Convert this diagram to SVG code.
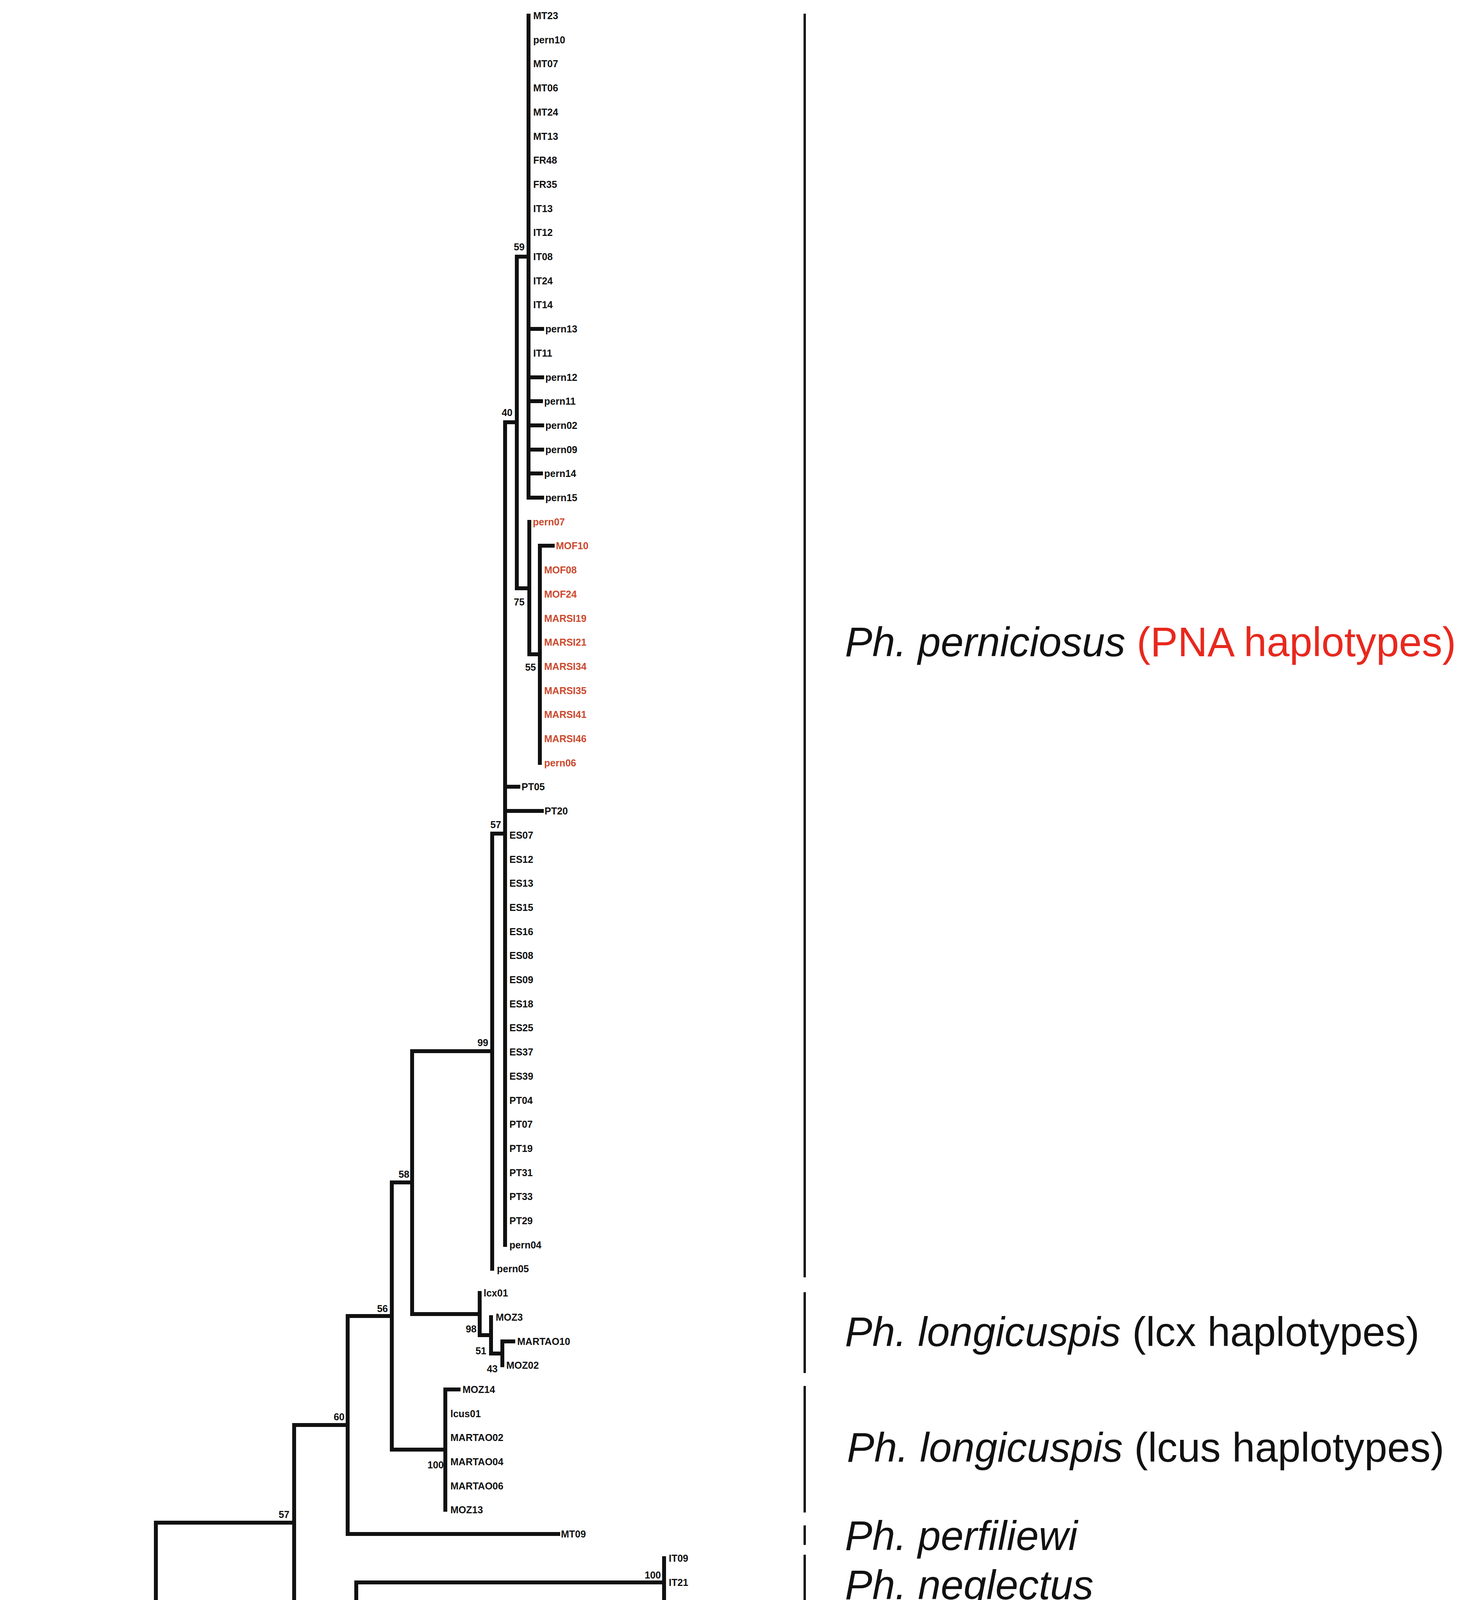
<svg xmlns="http://www.w3.org/2000/svg" width="3758" height="5182" viewBox="0 0 3758 5182">
<style>
.br{fill:none;stroke:#111;stroke-width:10;stroke-linecap:square}
.tip{font-family:"Liberation Sans",Arial,sans-serif;font-size:25px;font-weight:bold;fill:#111}
.red{fill:#cc4a2e}
.bs{font-family:"Liberation Sans",Arial,sans-serif;font-size:25px;font-weight:bold;fill:#111;text-anchor:end}
.cl{font-family:"Liberation Sans",Arial,sans-serif;font-size:105px;fill:#111}
.it{font-style:italic}
.brk{stroke:#111;stroke-width:6}
</style>
<rect width="3758" height="5182" fill="#ffffff"/>
<g id="connectors">
<path class="br" d="M1353 40 V1274 M1353 842 H1388 M1353 966 H1388 M1353 1027 H1385 M1353 1089 H1388 M1353 1151 H1388 M1353 1212 H1385 M1353 1274 H1388"/>
<path class="br" d="M1323 657 H1353 M1323 657 V1506 M1323 1506 H1355 M1355 1336 V1675 M1355 1675 H1382 M1382 1397 V1953 M1382 1397 H1415"/>
<path class="br" d="M1293 1081 H1323 M1293 1081 V3187 M1293 2014 H1327 M1293 2076 H1387"/>
<path class="br" d="M1260 2134 H1293 M1260 2134 V3248 M1055 2691 H1260 M1055 2691 V3364"/>
<path class="br" d="M1055 3364 H1228 M1228 3310 V3418 M1228 3418 H1257 M1257 3372 V3465 M1257 3465 H1286 M1286 3434 V3495 M1286 3434 H1314"/>
<path class="br" d="M1003 3027 H1055 M1003 3027 V3711 M1003 3711 H1140 M1140 3557 V3865 M1140 3557 H1174"/>
<path class="br" d="M890 3369 H1003 M890 3369 V3927 M890 3927 H1429"/>
<path class="br" d="M753 3648 H890 M753 3648 V4148 M753 4148 H912 M912 4051 V4245 M912 4051 H1700 M1700 3989 V4112"/>
<path class="br" d="M912 4245 H1468 M1468 4174 V4316 M1468 4174 H1557 M1468 4316 H1494 M1494 4236 V4397 M1494 4236 H1531 M1494 4397 H1524 M1524 4328 V4467 M1524 4328 H1586 M1586 4297 V4359 M1586 4297 H1614 M1586 4359 H1614 M1524 4467 H1540 M1540 4421 V4513 M1540 4421 H1597 M1540 4513 H1554 M1554 4482 V4544 M1554 4544 H1677"/>
<path class="br" d="M399 3898 H753 M399 3898 V4668 M399 4668 H1263 M1263 4606 V4729"/>
<path class="br" d="M26 4283 H399 M26 4283 V4837 M26 4837 H85 M85 4791 V4883 M85 4791 H1697 M85 4883 H630 M630 4853 V4914"/>
</g>
<g id="tips">
<g id="t-MT23"><text class="tip" x="1365" y="49">MT23</text></g>
<g id="t-pern10"><text class="tip" x="1365" y="111">pern10</text></g>
<g id="t-MT07"><text class="tip" x="1365" y="172">MT07</text></g>
<g id="t-MT06"><text class="tip" x="1365" y="234">MT06</text></g>
<g id="t-MT24"><text class="tip" x="1365" y="296">MT24</text></g>
<g id="t-MT13"><text class="tip" x="1365" y="358">MT13</text></g>
<g id="t-FR48"><text class="tip" x="1365" y="419">FR48</text></g>
<g id="t-FR35"><text class="tip" x="1365" y="481">FR35</text></g>
<g id="t-IT13"><text class="tip" x="1365" y="543">IT13</text></g>
<g id="t-IT12"><text class="tip" x="1365" y="604">IT12</text></g>
<g id="t-IT08"><text class="tip" x="1365" y="666">IT08</text></g>
<g id="t-IT24"><text class="tip" x="1365" y="728">IT24</text></g>
<g id="t-IT14"><text class="tip" x="1365" y="789">IT14</text></g>
<g id="t-pern13"><text class="tip" x="1396" y="851">pern13</text></g>
<g id="t-IT11"><text class="tip" x="1365" y="913">IT11</text></g>
<g id="t-pern12"><text class="tip" x="1396" y="975">pern12</text></g>
<g id="t-pern11"><text class="tip" x="1393" y="1036">pern11</text></g>
<g id="t-pern02"><text class="tip" x="1396" y="1098">pern02</text></g>
<g id="t-pern09"><text class="tip" x="1396" y="1160">pern09</text></g>
<g id="t-pern14"><text class="tip" x="1393" y="1221">pern14</text></g>
<g id="t-pern15"><text class="tip" x="1396" y="1283">pern15</text></g>
<g id="t-pern07"><text class="tip red" x="1364" y="1345">pern07</text></g>
<g id="t-MOF10"><text class="tip red" x="1423" y="1406">MOF10</text></g>
<g id="t-MOF08"><text class="tip red" x="1393" y="1468">MOF08</text></g>
<g id="t-MOF24"><text class="tip red" x="1393" y="1530">MOF24</text></g>
<g id="t-MARSI19"><text class="tip red" x="1393" y="1592">MARSI19</text></g>
<g id="t-MARSI21"><text class="tip red" x="1393" y="1653">MARSI21</text></g>
<g id="t-MARSI34"><text class="tip red" x="1393" y="1715">MARSI34</text></g>
<g id="t-MARSI35"><text class="tip red" x="1393" y="1777">MARSI35</text></g>
<g id="t-MARSI41"><text class="tip red" x="1393" y="1838">MARSI41</text></g>
<g id="t-MARSI46"><text class="tip red" x="1393" y="1900">MARSI46</text></g>
<g id="t-pern06"><text class="tip red" x="1393" y="1962">pern06</text></g>
<g id="t-PT05"><text class="tip" x="1335" y="2023">PT05</text></g>
<g id="t-PT20"><text class="tip" x="1394" y="2085">PT20</text></g>
<g id="t-ES07"><text class="tip" x="1304" y="2147">ES07</text></g>
<g id="t-ES12"><text class="tip" x="1304" y="2209">ES12</text></g>
<g id="t-ES13"><text class="tip" x="1304" y="2270">ES13</text></g>
<g id="t-ES15"><text class="tip" x="1304" y="2332">ES15</text></g>
<g id="t-ES16"><text class="tip" x="1304" y="2394">ES16</text></g>
<g id="t-ES08"><text class="tip" x="1304" y="2455">ES08</text></g>
<g id="t-ES09"><text class="tip" x="1304" y="2517">ES09</text></g>
<g id="t-ES18"><text class="tip" x="1304" y="2579">ES18</text></g>
<g id="t-ES25"><text class="tip" x="1304" y="2640">ES25</text></g>
<g id="t-ES37"><text class="tip" x="1304" y="2702">ES37</text></g>
<g id="t-ES39"><text class="tip" x="1304" y="2764">ES39</text></g>
<g id="t-PT04"><text class="tip" x="1304" y="2826">PT04</text></g>
<g id="t-PT07"><text class="tip" x="1304" y="2887">PT07</text></g>
<g id="t-PT19"><text class="tip" x="1304" y="2949">PT19</text></g>
<g id="t-PT31"><text class="tip" x="1304" y="3011">PT31</text></g>
<g id="t-PT33"><text class="tip" x="1304" y="3072">PT33</text></g>
<g id="t-PT29"><text class="tip" x="1304" y="3134">PT29</text></g>
<g id="t-pern04"><text class="tip" x="1304" y="3196">pern04</text></g>
<g id="t-pern05"><text class="tip" x="1272" y="3257">pern05</text></g>
<g id="t-lcx01"><text class="tip" x="1238" y="3319">lcx01</text></g>
<g id="t-MOZ3"><text class="tip" x="1269" y="3381">MOZ3</text></g>
<g id="t-MARTAO10"><text class="tip" x="1324" y="3443">MARTAO10</text></g>
<g id="t-MOZ02"><text class="tip" x="1296" y="3504">MOZ02</text></g>
<g id="t-MOZ14"><text class="tip" x="1184" y="3566">MOZ14</text></g>
<g id="t-lcus01"><text class="tip" x="1153" y="3628">lcus01</text></g>
<g id="t-MARTAO02"><text class="tip" x="1153" y="3689">MARTAO02</text></g>
<g id="t-MARTAO04"><text class="tip" x="1153" y="3751">MARTAO04</text></g>
<g id="t-MARTAO06"><text class="tip" x="1153" y="3813">MARTAO06</text></g>
<g id="t-MOZ13"><text class="tip" x="1153" y="3874">MOZ13</text></g>
<g id="t-MT09"><text class="tip" x="1436" y="3936">MT09</text></g>
<g id="t-IT09"><text class="tip" x="1712" y="3998">IT09</text></g>
<g id="t-IT21"><text class="tip" x="1712" y="4060">IT21</text></g>
<g id="t-IT18"><text class="tip" x="1712" y="4121">IT18</text></g>
<g id="t-ES26"><text class="tip" x="1565" y="4183">ES26</text></g>
<g id="t-ES06"><text class="tip" x="1539" y="4245">ES06</text></g>
<g id="t-PT02"><text class="tip" x="1622" y="4306">PT02</text></g>
<g id="t-PT25"><text class="tip" x="1622" y="4368">PT25</text></g>
<g id="t-FR44"><text class="tip" x="1605" y="4430">FR44</text></g>
<g id="t-PT24"><text class="tip" x="1565" y="4491">PT24</text></g>
<g id="t-FR43"><text class="tip" x="1685" y="4553">FR43</text></g>
<g id="t-FR59"><text class="tip" x="1274" y="4615">FR59</text></g>
<g id="t-FR49"><text class="tip" x="1274" y="4677">FR49</text></g>
<g id="t-FR51"><text class="tip" x="1274" y="4738">FR51</text></g>
<g id="t-MT08"><text class="tip" x="1707" y="4800">MT08</text></g>
<g id="t-ES40"><text class="tip" x="641" y="4862">ES40</text></g>
<g id="t-ES41"><text class="tip" x="641" y="4923">ES41</text></g>
</g>
<g id="bootstrap">
<text class="bs" x="1343" y="641">59</text>
<text class="bs" x="1312" y="1065">40</text>
<text class="bs" x="1343" y="1550">75</text>
<text class="bs" x="1372" y="1717">55</text>
<text class="bs" x="1283" y="2120">57</text>
<text class="bs" x="1250" y="2678">99</text>
<text class="bs" x="1048" y="3015">58</text>
<text class="bs" x="1220" y="3411">98</text>
<text class="bs" x="1245" y="3467">51</text>
<text class="bs" x="1274" y="3513">43</text>
<text class="bs" x="993" y="3359">56</text>
<text class="bs" x="1136" y="3759">100</text>
<text class="bs" x="882" y="3636">60</text>
<text class="bs" x="741" y="3886">57</text>
<text class="bs" x="903" y="4195">26</text>
<text class="bs" x="390" y="4271">65</text>
<text class="bs" x="1692" y="4041">100</text>
<text class="bs" x="1459" y="4293">100</text>
<text class="bs" x="1572" y="4317">91</text>
<text class="bs" x="1486" y="4364">46</text>
<text class="bs" x="1512" y="4449">71</text>
<text class="bs" x="1526" y="4518">81</text>
<text class="bs" x="1544" y="4563">72</text>
<text class="bs" x="1256" y="4720">100</text>
<text class="bs" x="625" y="4936">100</text>
</g>
<g id="clades">
<g id="c-perniciosus"><line class="brk" x1="2060" y1="35" x2="2060" y2="3270"/><text class="cl" x="2163" y="1680"><tspan class="it">Ph. perniciosus</tspan> <tspan fill="#e8281e">(PNA haplotypes)</tspan></text></g>
<g id="c-lcx"><line class="brk" x1="2060" y1="3308" x2="2060" y2="3515"/><text class="cl" x="2163" y="3446"><tspan class="it">Ph. longicuspis</tspan> (lcx haplotypes)</text></g>
<g id="c-lcus"><line class="brk" x1="2060" y1="3548" x2="2060" y2="3872"/><text class="cl" x="2168" y="3742"><tspan class="it">Ph. longicuspis</tspan> (lcus haplotypes)</text></g>
<g id="c-perfiliewi"><line class="brk" x1="2060" y1="3905" x2="2060" y2="3955"/><text class="cl it" x="2163" y="3968">Ph. perfiliewi</text></g>
<g id="c-neglectus"><line class="brk" x1="2060" y1="3980" x2="2060" y2="4145"/><text class="cl it" x="2163" y="4094">Ph. neglectus</text></g>
<g id="c-ariasi"><line class="brk" x1="2060" y1="4172" x2="2060" y2="4575"/><text class="cl it" x="2168" y="4421">Ph. ariasi</text></g>
<g id="c-mascittii"><line class="brk" x1="2060" y1="4600" x2="2060" y2="4748"/><text class="cl it" x="2157" y="4705">Ph. mascittii</text></g>
<g id="c-similis"><line class="brk" x1="2060" y1="4766" x2="2060" y2="4815"/><text class="cl it" x="2157" y="4836">Ph. similis</text></g>
<g id="c-papatasi"><line class="brk" x1="2060" y1="4838" x2="2060" y2="4930"/><text class="cl it" x="2157" y="4922">Ph. papatasi</text></g>
</g>
<g id="scale-bar">
<rect x="61" y="4997" width="36" height="50" fill="#111"/>
<rect x="467" y="4997" width="36" height="50" fill="#111"/>
<rect x="95" y="5010" width="374" height="25" fill="#111"/>
<text x="300" y="5150" font-family="'Liberation Sans',Arial,sans-serif" font-size="64" fill="#111" text-anchor="middle">0.050</text>
</g>
</svg>
